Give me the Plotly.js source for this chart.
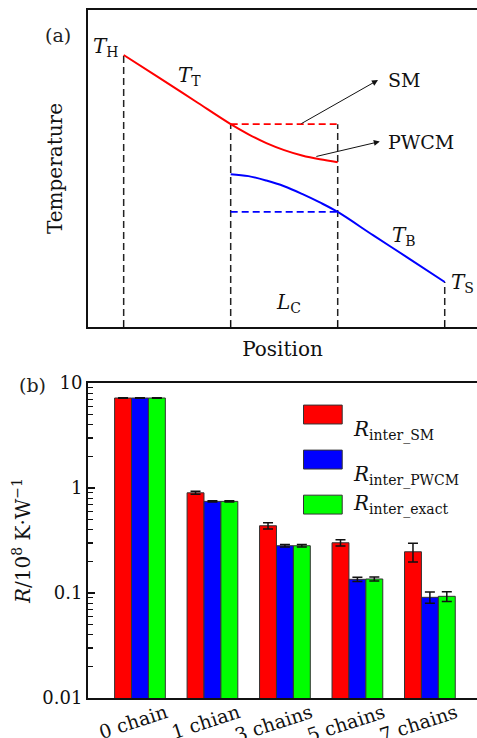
<!DOCTYPE html>
<html>
<head>
<meta charset="utf-8">
<script src="https://cdn.plot.ly/plotly-3.0.1.min.js"></script>
<style>html,body{margin:0;padding:0;background:#fff;}#chart{width:477px;height:738px;}</style>
</head>
<body>
<div id="chart"></div>
<script>
// ---------- Panel (a): schematic temperature profiles ----------
const redX = [1, 2, 3, 4, 4.5, 5, 5.5, 6, 6.5, 7];
const redT = [8.58, 7.86, 7.13, 6.40, 6.08, 5.80, 5.58, 5.41, 5.29, 5.20];
const blueX = [4, 4.5, 5, 5.5, 6, 6.5, 7, 8, 9, 10];
const blueT = [4.82, 4.76, 4.62, 4.44, 4.20, 3.93, 3.63, 2.89, 2.16, 1.42];
const guideX = [1, 4, 7, 10];
const guideTop = [8.58, 6.40, 6.40, 1.42];
const smSpan = [4, 7];
const smLevel = 6.40;
const blueLevel = 3.63;

// ---------- Panel (b): interface thermal resistance ----------
const categories = ['0 chain', '1 chian', '3 chains', '5 chains', '7 chains'];
const rSM = [7.2, 0.90, 0.437, 0.301, 0.247];
const rSMErr = [0.05, 0.03, 0.03, 0.02, 0.05];
const rPWCM = [7.2, 0.746, 0.282, 0.135, 0.091];
const rPWCMErr = [0.05, 0.01, 0.008, 0.006, 0.011];
const rExact = [7.2, 0.746, 0.282, 0.136, 0.093];
const rExactErr = [0.05, 0.01, 0.008, 0.006, 0.01];

const FONT = 'DejaVu Serif, serif';
const traces = [];

guideX.forEach((gx, i) => {
  traces.push({x: [gx, gx], y: [0, guideTop[i]], xaxis: 'x2', yaxis: 'y2', mode: 'lines',
    line: {color: '#222', width: 1.5, dash: '7px,4px'}, showlegend: false, hoverinfo: 'skip'});
});
traces.push({x: smSpan, y: [smLevel, smLevel], xaxis: 'x2', yaxis: 'y2', mode: 'lines',
  line: {color: '#ff0000', width: 1.8, dash: '7px,4px'}, showlegend: false, hoverinfo: 'skip'});
traces.push({x: smSpan, y: [blueLevel, blueLevel], xaxis: 'x2', yaxis: 'y2', mode: 'lines',
  line: {color: '#0000ff', width: 1.8, dash: '7px,4px'}, showlegend: false, hoverinfo: 'skip'});
traces.push({x: redX, y: redT, xaxis: 'x2', yaxis: 'y2', mode: 'lines',
  line: {color: '#ff0000', width: 2, shape: 'spline', smoothing: 1}, showlegend: false});
traces.push({x: blueX, y: blueT, xaxis: 'x2', yaxis: 'y2', mode: 'lines',
  line: {color: '#0000ff', width: 2, shape: 'spline', smoothing: 1}, showlegend: false});

const barSpecs = [
  {name: 'R_inter_SM', y: rSM, e: rSMErr, c: '#ff0000'},
  {name: 'R_inter_PWCM', y: rPWCM, e: rPWCMErr, c: '#0000ff'},
  {name: 'R_inter_exact', y: rExact, e: rExactErr, c: '#00ff00'}
];
barSpecs.forEach(s => {
  traces.push({type: 'bar', x: categories, y: s.y, name: s.name, xaxis: 'x', yaxis: 'y',
    marker: {color: s.c, line: {color: '#333', width: 1}},
    error_y: {type: 'data', array: s.e, visible: true, color: '#111', thickness: 1.5, width: 5},
    showlegend: false});
});

const annotations = [
  {text: '(a)', xref: 'paper', yref: 'paper', x: -0.116, y: 0.983, showarrow: false, font: {family: FONT, size: 19, color: '#222'}},
  {text: '(b)', xref: 'paper', yref: 'paper', x: -0.183, y: 0.4555, showarrow: false, font: {family: FONT, size: 19, color: '#222'}},
  {text: '<i>T</i><sub>H</sub>', xref: 'x2', yref: 'y2', x: 0.92, y: 8.83, xanchor: 'right', showarrow: false, font: {family: FONT, size: 20, color: '#111'}},
  {text: '<i>T</i><sub>T</sub>', xref: 'x2', yref: 'y2', x: 2.84, y: 7.93, showarrow: false, font: {family: FONT, size: 20, color: '#111'}},
  {text: 'SM', xref: 'x2', yref: 'y2', x: 8.35, y: 7.79, xanchor: 'left', showarrow: false, font: {family: FONT, size: 19, color: '#111'}},
  {text: 'PWCM', xref: 'x2', yref: 'y2', x: 8.35, y: 5.85, xanchor: 'left', showarrow: false, font: {family: FONT, size: 19, color: '#111'}},
  {text: '<i>T</i><sub>B</sub>', xref: 'x2', yref: 'y2', x: 8.87, y: 2.88, showarrow: false, font: {family: FONT, size: 20, color: '#111'}},
  {text: '<i>T</i><sub>S</sub>', xref: 'x2', yref: 'y2', x: 10.12, y: 1.38, xanchor: 'left', showarrow: false, font: {family: FONT, size: 20, color: '#111'}},
  {text: '<i>L</i><sub>C</sub>', xref: 'x2', yref: 'y2', x: 5.61, y: 0.77, showarrow: false, font: {family: FONT, size: 20, color: '#111'}},
  {text: '', xref: 'x2', yref: 'y2', axref: 'x2', ayref: 'y2', x: 8.13, y: 7.79, ax: 5.94, ay: 6.39,
    showarrow: true, arrowhead: 2, arrowsize: 1.2, arrowwidth: 1, arrowcolor: '#111'},
  {text: '', xref: 'x2', yref: 'y2', axref: 'x2', ayref: 'y2', x: 8.18, y: 5.85, ax: 6.36, ay: 5.37,
    showarrow: true, arrowhead: 2, arrowsize: 1.2, arrowwidth: 1, arrowcolor: '#111'}
];

const legendRows = [
  {label: '<i>R</i><sub>inter_SM</sub>', c: '#ff0000', y0: 0.870, y1: 0.930, ty: 0.900},
  {label: '<i>R</i><sub>inter_PWCM</sub>', c: '#0000ff', y0: 0.727, y1: 0.787, ty: 0.757},
  {label: '<i>R</i><sub>inter_exact</sub>', c: '#00ff00', y0: 0.584, y1: 0.644, ty: 0.614}
];
const shapes = [];
legendRows.forEach(r => {
  shapes.push({type: 'rect', xref: 'x domain', yref: 'y domain', x0: 0.554, x1: 0.6535, y0: r.y0, y1: r.y1,
    fillcolor: r.c, line: {color: '#333', width: 1}});
  annotations.push({text: r.label, xref: 'x domain', yref: 'y domain', x: 0.677, y: r.ty, xanchor: 'left',
    showarrow: false, font: {family: FONT, size: 20, color: '#111'}});
});

const layout = {
  width: 477, height: 738,
  margin: {l: 88, r: 0, t: 10, b: 40},
  paper_bgcolor: '#fff', plot_bgcolor: '#fff',
  font: {family: FONT, color: '#111'},
  showlegend: false,
  barmode: 'group', bargap: 0.3, bargroupgap: 0,
  xaxis: {domain: [0, 1], anchor: 'y', type: 'category', range: [-0.717, 4.65],
    showline: true, mirror: true, linewidth: 2, linecolor: '#111', ticks: '', showgrid: false,
    tickangle: -18, ticklabelshift: 26, ticklabelstandoff: -5, tickfont: {family: FONT, size: 19, color: '#111'}},
  yaxis: {domain: [0, 0.4578], anchor: 'x', type: 'log', range: [-2, 1],
    tickmode: 'linear', tick0: 0, dtick: 1, showline: true, linewidth: 2, linecolor: '#111',
    ticks: 'inside', ticklen: 7, tickwidth: 1.5, tickcolor: '#111', showgrid: false,
    minor: {dtick: 'D1', ticks: 'inside', ticklen: 5, tickwidth: 1.3, tickcolor: '#111'},
    tickfont: {family: FONT, size: 18, color: '#111'},
    title: {text: '<i>R</i>/10<sup>8</sup> K·W<sup>−1</sup>', font: {family: FONT, size: 20, color: '#111'}, standoff: 6}},
  xaxis2: {domain: [0, 1], anchor: 'y2', range: [0, 10.905], showline: true, mirror: true, linewidth: 2, linecolor: '#111',
    tickmode: 'array', tickvals: guideX, ticks: 'inside', ticklen: 6, tickwidth: 1.5, tickcolor: '#111', showticklabels: false, showgrid: false, zeroline: false,
    title: {text: 'Position', font: {family: FONT, size: 20, color: '#111'}, standoff: 14}},
  yaxis2: {domain: [0.5392, 1], anchor: 'x2', range: [0, 10], showline: true, mirror: false, linewidth: 2, linecolor: '#111',
    ticks: '', showticklabels: false, showgrid: false, zeroline: false,
    title: {text: 'Temperature', font: {family: FONT, size: 20, color: '#111'}, standoff: 18}},
  annotations: annotations,
  shapes: shapes
};

Plotly.newPlot('chart', traces, layout, {displayModeBar: false, staticPlot: true});
</script>
</body>
</html>
